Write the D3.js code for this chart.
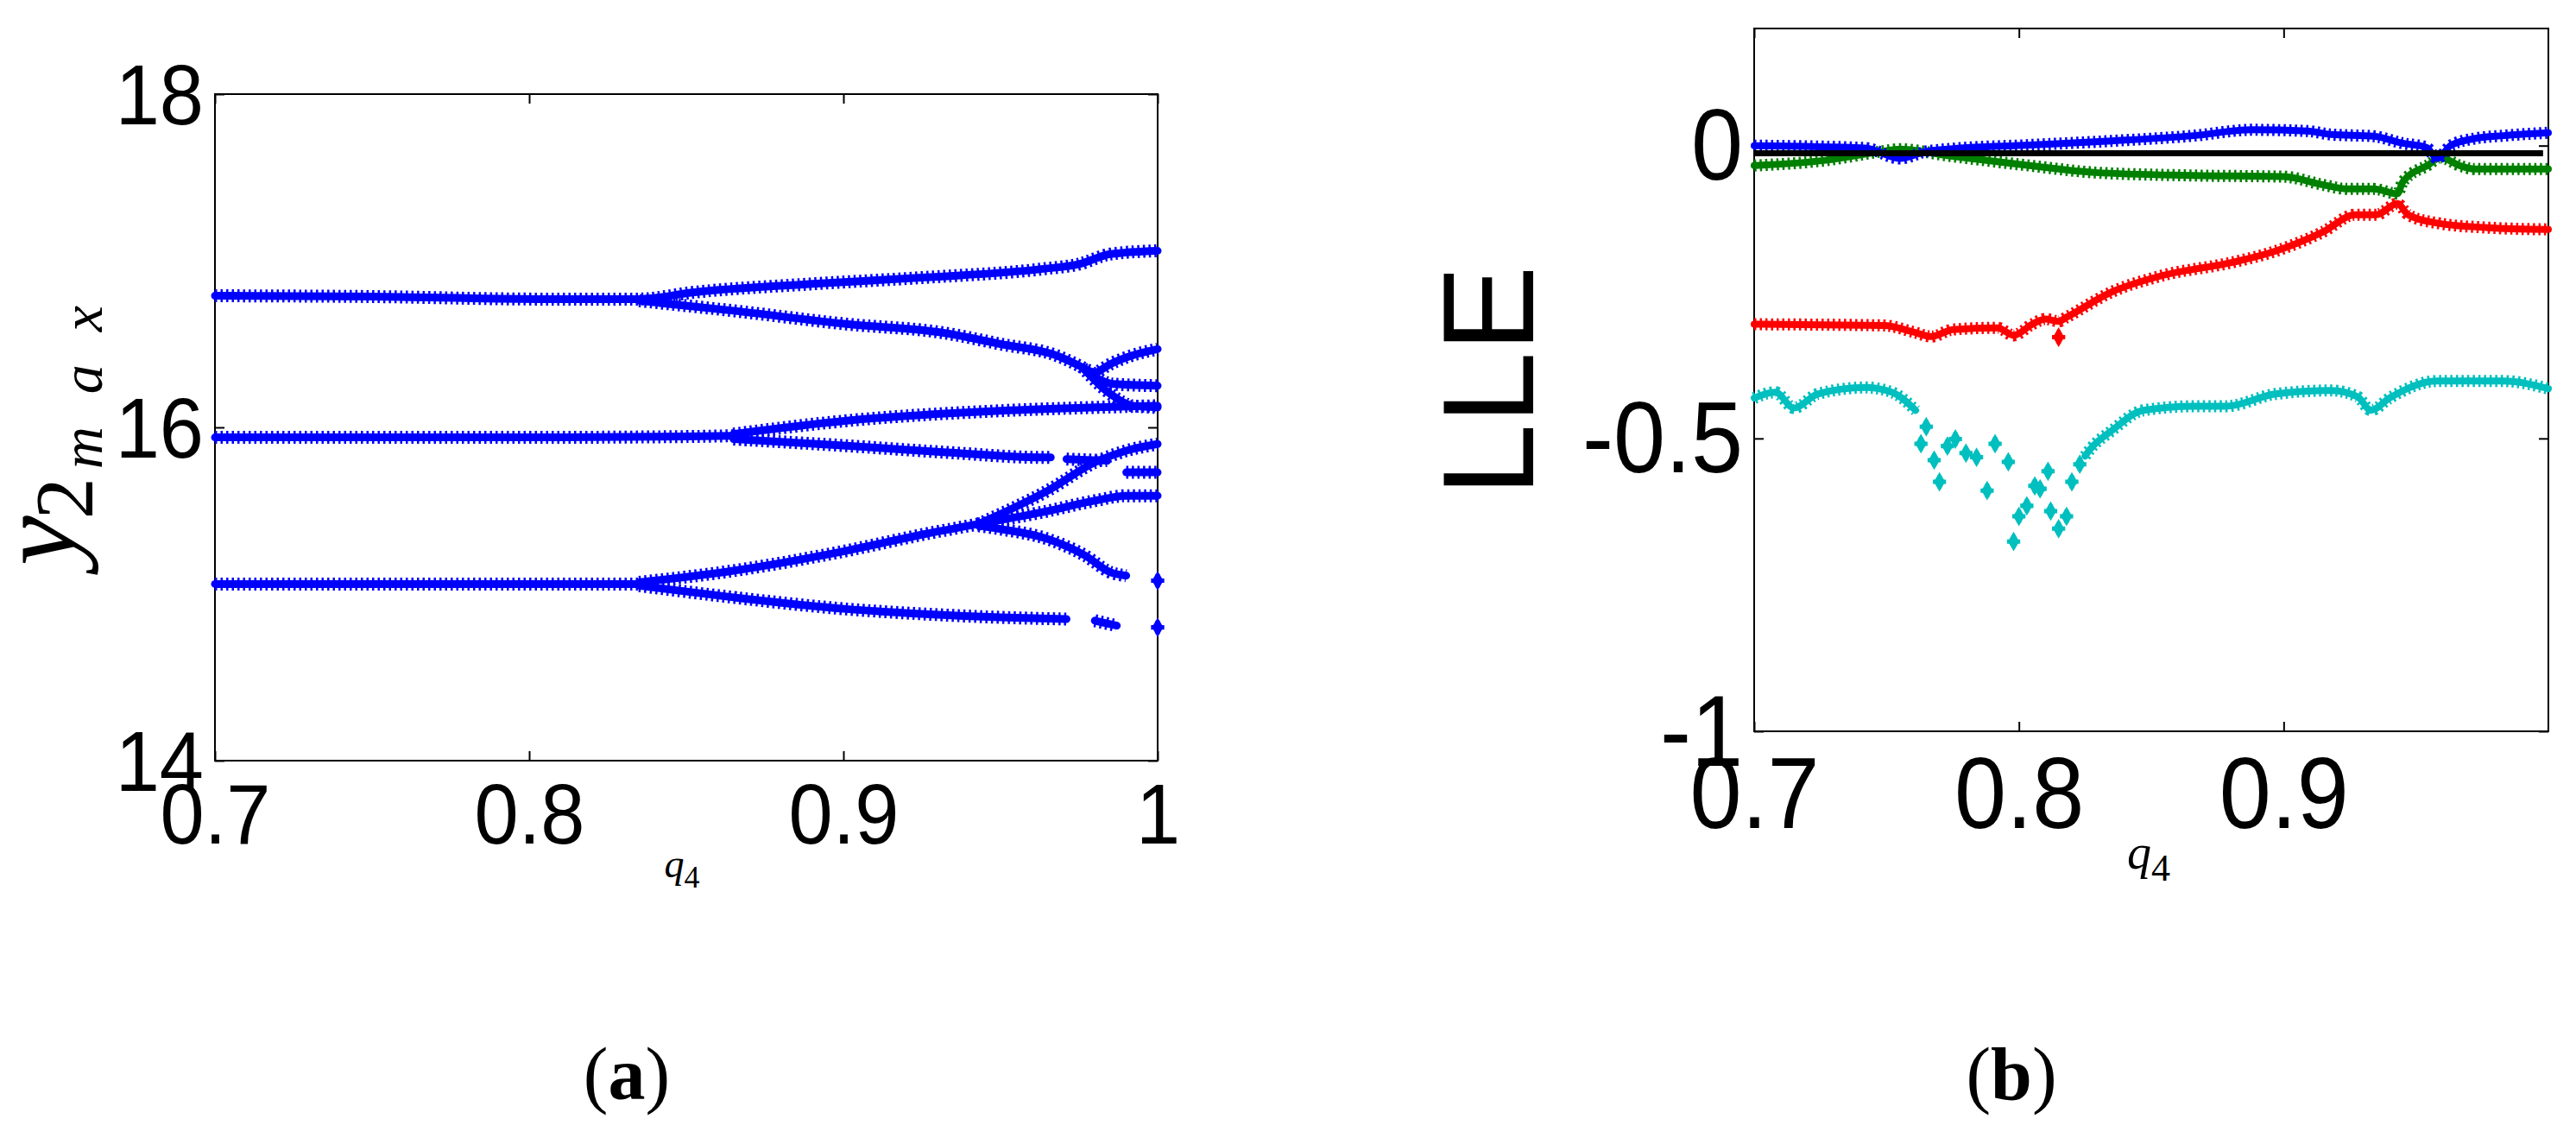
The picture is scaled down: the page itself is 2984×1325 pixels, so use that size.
<!DOCTYPE html>
<html><head><meta charset="utf-8">
<script src="https://cdn.jsdelivr.net/npm/d3@7"></script>
<style>html,body{margin:0;padding:0;background:#fff;overflow:hidden}</style>
</head><body>
<svg id="fig" width="2984" height="1325" xmlns="http://www.w3.org/2000/svg"></svg>
<script>
// ---------------- DATA ----------------
// Panel (a): bifurcation diagram, y2max vs q4 (branches as [q4, y2max])
const aXTicks = [0.7, 0.8, 0.9, 1];
const aYTicks = [14, 16, 18];
const aBranchUpper = [[0.700,16.79],[0.750,16.785],[0.803,16.77],[0.835,16.77],[0.852,16.81],[0.889,16.86],[0.926,16.90],[0.963,16.95],[0.975,16.98],[0.985,17.04],[1.000,17.06]];
const aBranchUpperLow = [[0.835,16.76],[0.865,16.70],[0.901,16.62],[0.931,16.57],[0.950,16.50],[0.968,16.43],[0.975,16.37],[0.980,16.32]];
const aBranchUpperLowA = [[0.980,16.32],[0.985,16.38],[0.990,16.42],[1.000,16.47]];
const aBranchUpperLowB = [[0.980,16.30],[0.986,16.26],[1.000,16.25]];
const aBranchUpperLowC = [[0.976,16.36],[0.985,16.20],[0.992,16.13],[1.000,16.12]];
const aBranchMid = [[0.700,15.94],[0.800,15.94],[0.850,15.945],[0.865,15.95]];
const aBranchMidUp = [[0.865,15.96],[0.901,16.04],[0.950,16.10],[0.980,16.12],[1.000,16.13]];
const aBranchMidDown = [[0.865,15.93],[0.901,15.89],[0.933,15.85],[0.963,15.82],[0.966,15.82]];
const aBranchMidDown2 = [[0.971,15.81],[0.984,15.80]];
const aBranchMidDown3 = [[0.990,15.73],[1.000,15.73]];
const aBranchLow = [[0.700,15.06],[0.780,15.06],[0.835,15.06]];
const aBranchLowUp = [[0.835,15.07],[0.865,15.14],[0.901,15.26],[0.926,15.36],[0.943,15.42]];
const aBranchLowUpA = [[0.943,15.42],[0.950,15.48],[0.965,15.62],[0.980,15.79],[0.990,15.86],[1.000,15.90]];
const aBranchLowUpB = [[0.943,15.42],[0.963,15.49],[0.980,15.56],[0.990,15.59],[1.000,15.59]];
const aBranchLowUpC = [[0.943,15.41],[0.950,15.39],[0.965,15.33],[0.977,15.23],[0.985,15.13],[0.990,15.11]];
const aBranchLowDown = [[0.835,15.05],[0.865,14.98],[0.901,14.91],[0.926,14.88],[0.950,14.86],[0.971,14.85]];
const aBranchLowDown2 = [[0.980,14.84],[0.987,14.81]];
const aIsolated = [[1.000,15.08],[1.000,14.80]];

// Panel (b): local Lyapunov exponents vs q4
const bXTicks = [0.7, 0.8, 0.9];
const bYTicks = [-1, -0.5, 0];
const bBlue = [[0.700,0.000],[0.742,-0.004],[0.755,-0.022],[0.765,-0.010],[0.773,-0.006],[0.804,0.001],[0.835,0.008],[0.866,0.017],[0.888,0.027],[0.909,0.025],[0.918,0.019],[0.934,0.016],[0.945,0.004],[0.954,-0.003],[0.958,-0.022],[0.963,0.000],[0.972,0.012],[0.983,0.017],[1.000,0.022]];
const bGreen = [[0.700,-0.034],[0.727,-0.025],[0.748,-0.010],[0.755,-0.006],[0.773,-0.017],[0.804,-0.034],[0.829,-0.046],[0.866,-0.051],[0.900,-0.053],[0.915,-0.067],[0.924,-0.074],[0.934,-0.074],[0.943,-0.082],[0.945,-0.062],[0.955,-0.032],[0.959,-0.020],[0.967,-0.035],[0.972,-0.040],[1.000,-0.040]];
const bRed = [[0.700,-0.305],[0.749,-0.307],[0.760,-0.318],[0.767,-0.326],[0.775,-0.314],[0.792,-0.311],[0.798,-0.324],[0.805,-0.305],[0.810,-0.296],[0.815,-0.300],[0.818,-0.293],[0.835,-0.250],[0.854,-0.222],[0.881,-0.199],[0.897,-0.180],[0.915,-0.147],[0.927,-0.118],[0.935,-0.118],[0.943,-0.099],[0.947,-0.118],[0.959,-0.133],[0.977,-0.140],[1.000,-0.143]];
const bRedIsolated = [[0.815,-0.327]];
const bCyanA = [[0.700,-0.431],[0.708,-0.421],[0.715,-0.448],[0.724,-0.424],[0.742,-0.413],[0.752,-0.421],[0.761,-0.452]];
const bCyanScatter = [[0.765,-0.480],[0.763,-0.509],[0.768,-0.537],[0.770,-0.574],[0.773,-0.513],[0.776,-0.501],[0.780,-0.525],[0.784,-0.532],[0.788,-0.589],[0.791,-0.509],[0.796,-0.540],[0.798,-0.676],[0.800,-0.633],[0.803,-0.615],[0.806,-0.581],[0.808,-0.586],[0.811,-0.556],[0.812,-0.624],[0.815,-0.654],[0.818,-0.633],[0.820,-0.574],[0.823,-0.544]];
const bCyanB = [[0.825,-0.530],[0.827,-0.518],[0.835,-0.487],[0.847,-0.452],[0.866,-0.445],[0.878,-0.445],[0.897,-0.424],[0.918,-0.418],[0.928,-0.429],[0.933,-0.452],[0.940,-0.431],[0.958,-0.402],[0.983,-0.402],[1.000,-0.415]];
const bZeroLine = [[0.700,-0.013],[0.998,-0.013]];

// ---------------- DRAWING ----------------
const svg = d3.select("#fig");
svg.append("rect").attr("width",2984).attr("height",1325).attr("fill","#fff");

const xA = d3.scaleLinear().domain([0.7,1]).range([249,1341]);
const yA = d3.scaleLinear().domain([14,18]).range([881,109]);
const xB = d3.scaleLinear().domain([0.7,1]).range([2032,2952]);
const yB = d3.scaleLinear().domain([-1,0.2]).range([847,33]);

const BLUE="#0000ff", GREEN="#008000", RED="#ff0000", CYAN="#00bfbf";

function frame(g, xs, ys){
  const [x0,x1]=xs.range(), [y0,y1]=ys.range();
  g.append("rect").attr("x",x0).attr("y",y1).attr("width",x1-x0).attr("height",y0-y1)
   .attr("fill","none").attr("stroke","#000").attr("stroke-width",2);
}

function axes(g, xs, ys, xt, yt, fs, k, xOff, yOff, yX){
  const [x0,x1]=xs.range(), [y0,y1]=ys.range();
  const styleAxis = (sel)=>{
    sel.attr("font-family","'Liberation Sans', Arial, sans-serif").attr("font-size",fs).attr("fill",null);
    sel.select(".domain").remove();
    sel.selectAll(".tick line").attr("stroke","#000").attr("stroke-width",2);
  };
  const gb = g.append("g").attr("transform",`translate(0,${y0})`)
    .call(d3.axisBottom(xs).tickValues(xt).tickSizeInner(-11).tickSizeOuter(0).tickFormat(d=>String(d)));
  styleAxis(gb);
  gb.selectAll(".tick text").attr("y",null).attr("dy",null).attr("fill","#000")
    .attr("transform",`translate(0,${xOff}) scale(1,${k})`);
  const gt = g.append("g").attr("transform",`translate(0,${y1})`)
    .call(d3.axisTop(xs).tickValues(xt).tickSizeInner(-11).tickSizeOuter(0).tickFormat(""));
  styleAxis(gt);
  const gl = g.append("g").attr("transform",`translate(${x0},0)`)
    .call(d3.axisLeft(ys).tickValues(yt).tickSizeInner(-11).tickSizeOuter(0).tickFormat(d=>String(d)));
  styleAxis(gl);
  gl.selectAll(".tick text").attr("x",null).attr("dy",null).attr("fill","#000").attr("text-anchor","end")
    .attr("transform",`translate(${yX},${yOff}) scale(1,${k})`);
  const gr = g.append("g").attr("transform",`translate(${x1},0)`)
    .call(d3.axisRight(ys).tickValues(yt).tickSizeInner(-11).tickSizeOuter(0).tickFormat(""));
  styleAxis(gr);
}

function band(g, data, xs, ys, color, wBase, wDash){
  const line = d3.line().x(d=>xs(d[0])).y(d=>ys(d[1])).curve(d3.curveMonotoneX);
  g.append("path").attr("d",line(data)).attr("fill","none").attr("stroke",color)
    .attr("stroke-width",wBase).attr("stroke-linejoin","round").attr("stroke-linecap","round");
  g.append("path").attr("d",line(data)).attr("fill","none").attr("stroke",color)
    .attr("stroke-width",wDash).attr("stroke-dasharray","2.5 4").attr("stroke-linecap","butt");
}

function markers(g, data, xs, ys, color){
  const cross = d3.symbol(d3.symbolCross, 130)();
  const diam = d3.symbol(d3.symbolDiamond, 150)();
  data.forEach(d=>{
    const t=`translate(${xs(d[0])},${ys(d[1])})`;
    g.append("path").attr("d",cross).attr("transform",t).attr("fill",color);
    g.append("path").attr("d",diam).attr("transform",t).attr("fill",color);
  });
}

// ----- Panel (a) -----
const gA = svg.append("g");
frame(gA, xA, yA);
axes(gA, xA, yA, aXTicks, aYTicks, 92, 1.075, 96, 34, -13);
[aBranchUpper,aBranchUpperLow,aBranchUpperLowA,aBranchUpperLowB,aBranchUpperLowC,
 aBranchMid,aBranchMidUp,aBranchMidDown,aBranchMidDown2,aBranchMidDown3,
 aBranchLow,aBranchLowUp,aBranchLowUpA,aBranchLowUpB,aBranchLowUpC,aBranchLowDown,aBranchLowDown2]
 .forEach(b=>band(gA, b, xA, yA, BLUE, 9, 15));
markers(gA, aIsolated, xA, yA, BLUE);

// y label: y_{2_{max}}
const ylab = gA.append("text").attr("transform","translate(86,655) rotate(-90)")
  .attr("font-family","'Liberation Serif', 'Times New Roman', serif").attr("font-style","italic").attr("fill","#000");
ylab.append("tspan").attr("font-size",130).text("y");
ylab.append("tspan").attr("font-size",96).attr("font-style","normal").attr("dy",21).attr("dx",-4).text("2");
ylab.append("tspan").attr("font-size",68).attr("dy",11).attr("dx",10).attr("letter-spacing",38).text("max");

// x label q4
const xlabA = gA.append("text").attr("x",790).attr("y",1016).attr("text-anchor","middle")
  .attr("font-family","'Liberation Serif', 'Times New Roman', serif").attr("fill","#000");
xlabA.append("tspan").attr("font-style","italic").attr("font-size",46).text("q");
xlabA.append("tspan").attr("font-size",36).attr("dy",12).text("4");

// caption (a)
const capA = svg.append("text").attr("x",726).attr("y",1273).attr("text-anchor","middle")
  .attr("font-family","'Liberation Serif', 'Times New Roman', serif").attr("font-size",86).attr("fill","#000");
capA.append("tspan").text("(");
capA.append("tspan").attr("font-weight","bold").text("a");
capA.append("tspan").text(")");

// ----- Panel (b) -----
const gB = svg.append("g");
frame(gB, xB, yB);
axes(gB, xB, yB, bXTicks, bYTicks, 108, 1.08, 112, 39, -13);
band(gB, bCyanA, xB, yB, CYAN, 8, 14);
band(gB, bCyanB, xB, yB, CYAN, 8, 14);
markers(gB, bCyanScatter, xB, yB, CYAN);
band(gB, bRed, xB, yB, RED, 8, 14);
markers(gB, bRedIsolated, xB, yB, RED);
band(gB, bGreen, xB, yB, GREEN, 8, 14);
band(gB, bBlue, xB, yB, BLUE, 8, 14);
gB.append("path").attr("d", d3.line().x(d=>xB(d[0])).y(d=>yB(d[1]))(bZeroLine))
  .attr("stroke","#000").attr("stroke-width",7).attr("fill","none");

// y label LLE
gB.append("text").attr("transform","translate(1776,441) rotate(-90)").attr("text-anchor","middle")
  .attr("font-family","'Liberation Sans', Arial, sans-serif").attr("font-size",150).attr("fill","#000").text("LLE");

// x label q4
const xlabB = gB.append("text").attr("x",2489).attr("y",1006).attr("text-anchor","middle")
  .attr("font-family","'Liberation Serif', 'Times New Roman', serif").attr("fill","#000");
xlabB.append("tspan").attr("font-style","italic").attr("font-size",56).text("q");
xlabB.append("tspan").attr("font-size",44).attr("dy",14).text("4");

// caption (b)
const capB = svg.append("text").attr("x",2330).attr("y",1273).attr("text-anchor","middle")
  .attr("font-family","'Liberation Serif', 'Times New Roman', serif").attr("font-size",86).attr("fill","#000");
capB.append("tspan").text("(");
capB.append("tspan").attr("font-weight","bold").text("b");
capB.append("tspan").text(")");
</script>
</body></html>
